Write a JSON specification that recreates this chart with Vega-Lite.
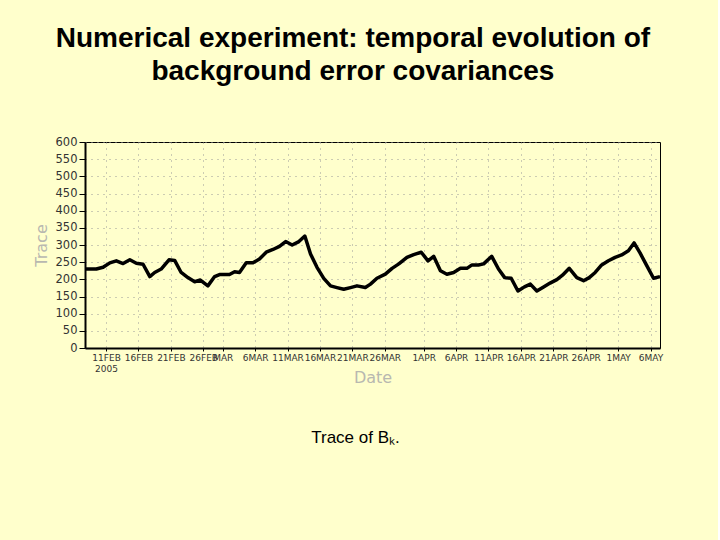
{
  "$schema": "https://vega.github.io/schema/vega-lite/v6.json",
  "description": "Trace of the background error covariance matrix over time, Feb-May 2005.",
  "background": "#FFFFCC",
  "padding": {"left": 32, "top": 24, "right": 54, "bottom": 110},
  "title": {
    "text": ["Numerical experiment: temporal evolution of", "background error covariances"],
    "font": "Liberation Sans",
    "fontSize": 28,
    "fontWeight": "bold",
    "color": "#000000",
    "lineHeight": 33,
    "anchor": "middle",
    "dx": 5,
    "offset": 50
  },
  "spacing": 32,
  "vconcat": [
    {
      "width": 575,
      "height": 206,
      "data": {
        "values": [
          {"time": "2005-02-07T18:00:00Z", "trace": 230},
          {"time": "2005-02-09T12:00:00Z", "trace": 230},
          {"time": "2005-02-10T13:00:00Z", "trace": 235},
          {"time": "2005-02-11T14:00:00Z", "trace": 248},
          {"time": "2005-02-12T14:00:00Z", "trace": 254},
          {"time": "2005-02-13T15:00:00Z", "trace": 246},
          {"time": "2005-02-14T16:00:00Z", "trace": 257},
          {"time": "2005-02-15T16:00:00Z", "trace": 247},
          {"time": "2005-02-16T17:00:00Z", "trace": 244},
          {"time": "2005-02-17T18:00:00Z", "trace": 208},
          {"time": "2005-02-18T12:00:00Z", "trace": 220},
          {"time": "2005-02-19T12:00:00Z", "trace": 230},
          {"time": "2005-02-20T17:00:00Z", "trace": 257},
          {"time": "2005-02-21T14:00:00Z", "trace": 255},
          {"time": "2005-02-22T14:00:00Z", "trace": 220},
          {"time": "2005-02-23T15:00:00Z", "trace": 205},
          {"time": "2005-02-24T16:00:00Z", "trace": 193},
          {"time": "2005-02-25T13:00:00Z", "trace": 198},
          {"time": "2005-02-26T17:00:00Z", "trace": 181},
          {"time": "2005-02-27T18:00:00Z", "trace": 208},
          {"time": "2005-02-28T12:00:00Z", "trace": 214},
          {"time": "2005-03-02T01:00:00Z", "trace": 214},
          {"time": "2005-03-02T20:00:00Z", "trace": 222},
          {"time": "2005-03-03T14:00:00Z", "trace": 220},
          {"time": "2005-03-04T15:00:00Z", "trace": 248},
          {"time": "2005-03-05T16:00:00Z", "trace": 248},
          {"time": "2005-03-06T16:00:00Z", "trace": 259},
          {"time": "2005-03-07T17:00:00Z", "trace": 279},
          {"time": "2005-03-08T18:00:00Z", "trace": 287},
          {"time": "2005-03-09T18:00:00Z", "trace": 296},
          {"time": "2005-03-10T17:00:00Z", "trace": 310},
          {"time": "2005-03-11T17:00:00Z", "trace": 300},
          {"time": "2005-03-12T18:00:00Z", "trace": 310},
          {"time": "2005-03-13T16:00:00Z", "trace": 326},
          {"time": "2005-03-14T13:00:00Z", "trace": 274},
          {"time": "2005-03-15T13:00:00Z", "trace": 235},
          {"time": "2005-03-16T14:00:00Z", "trace": 203},
          {"time": "2005-03-17T15:00:00Z", "trace": 181},
          {"time": "2005-03-18T15:00:00Z", "trace": 176},
          {"time": "2005-03-19T16:00:00Z", "trace": 171},
          {"time": "2005-03-20T17:00:00Z", "trace": 176},
          {"time": "2005-03-21T17:00:00Z", "trace": 181},
          {"time": "2005-03-23T00:00:00Z", "trace": 176},
          {"time": "2005-03-23T19:00:00Z", "trace": 186},
          {"time": "2005-03-24T19:00:00Z", "trace": 203},
          {"time": "2005-03-26T02:00:00Z", "trace": 215},
          {"time": "2005-03-27T03:00:00Z", "trace": 232},
          {"time": "2005-03-28T04:00:00Z", "trace": 245},
          {"time": "2005-03-29T10:00:00Z", "trace": 264},
          {"time": "2005-03-30T11:00:00Z", "trace": 272},
          {"time": "2005-03-31T15:00:00Z", "trace": 279},
          {"time": "2005-04-01T16:00:00Z", "trace": 254},
          {"time": "2005-04-02T13:00:00Z", "trace": 267},
          {"time": "2005-04-03T14:00:00Z", "trace": 225},
          {"time": "2005-04-04T14:00:00Z", "trace": 215},
          {"time": "2005-04-05T15:00:00Z", "trace": 220},
          {"time": "2005-04-06T16:00:00Z", "trace": 232},
          {"time": "2005-04-07T16:00:00Z", "trace": 232},
          {"time": "2005-04-08T11:00:00Z", "trace": 242},
          {"time": "2005-04-09T11:00:00Z", "trace": 242},
          {"time": "2005-04-10T06:00:00Z", "trace": 245},
          {"time": "2005-04-11T12:00:00Z", "trace": 267},
          {"time": "2005-04-12T13:00:00Z", "trace": 230},
          {"time": "2005-04-13T12:00:00Z", "trace": 205},
          {"time": "2005-04-14T12:00:00Z", "trace": 203},
          {"time": "2005-04-15T13:00:00Z", "trace": 166},
          {"time": "2005-04-16T13:00:00Z", "trace": 178},
          {"time": "2005-04-17T11:00:00Z", "trace": 186},
          {"time": "2005-04-18T11:00:00Z", "trace": 166},
          {"time": "2005-04-19T12:00:00Z", "trace": 178},
          {"time": "2005-04-20T12:00:00Z", "trace": 189},
          {"time": "2005-04-21T13:00:00Z", "trace": 199},
          {"time": "2005-04-22T10:00:00Z", "trace": 212},
          {"time": "2005-04-23T11:00:00Z", "trace": 232},
          {"time": "2005-04-24T15:00:00Z", "trace": 205},
          {"time": "2005-04-25T16:00:00Z", "trace": 196},
          {"time": "2005-04-26T13:00:00Z", "trace": 205},
          {"time": "2005-04-27T11:00:00Z", "trace": 220},
          {"time": "2005-04-28T11:00:00Z", "trace": 242},
          {"time": "2005-04-29T12:00:00Z", "trace": 254},
          {"time": "2005-04-30T13:00:00Z", "trace": 264},
          {"time": "2005-05-01T13:00:00Z", "trace": 271},
          {"time": "2005-05-02T14:00:00Z", "trace": 283},
          {"time": "2005-05-03T11:00:00Z", "trace": 306},
          {"time": "2005-05-04T09:00:00Z", "trace": 277},
          {"time": "2005-05-05T10:00:00Z", "trace": 240},
          {"time": "2005-05-06T11:00:00Z", "trace": 203},
          {"time": "2005-05-07T11:00:00Z", "trace": 208}
        ]
      },
      "mark": {"type": "line", "color": "#000000", "strokeWidth": 3.5, "strokeJoin": "round"},
      "encoding": {
        "x": {
          "field": "time",
          "type": "temporal",
          "scale": {
            "type": "utc",
            "nice": false,
            "domain": [
              {"year": 2005, "month": 2, "date": 7, "hours": 18, "utc": true},
              {"year": 2005, "month": 5, "date": 7, "hours": 11, "utc": true}
            ]
          },
          "axis": {
            "title": "Date",
            "values": [
              {"year": 2005, "month": 2, "date": 11, "utc": true},
              {"year": 2005, "month": 2, "date": 16, "utc": true},
              {"year": 2005, "month": 2, "date": 21, "utc": true},
              {"year": 2005, "month": 2, "date": 26, "utc": true},
              {"year": 2005, "month": 3, "date": 1, "utc": true},
              {"year": 2005, "month": 3, "date": 6, "utc": true},
              {"year": 2005, "month": 3, "date": 11, "utc": true},
              {"year": 2005, "month": 3, "date": 16, "utc": true},
              {"year": 2005, "month": 3, "date": 21, "utc": true},
              {"year": 2005, "month": 3, "date": 26, "utc": true},
              {"year": 2005, "month": 4, "date": 1, "utc": true},
              {"year": 2005, "month": 4, "date": 6, "utc": true},
              {"year": 2005, "month": 4, "date": 11, "utc": true},
              {"year": 2005, "month": 4, "date": 16, "utc": true},
              {"year": 2005, "month": 4, "date": 21, "utc": true},
              {"year": 2005, "month": 4, "date": 26, "utc": true},
              {"year": 2005, "month": 5, "date": 1, "utc": true},
              {"year": 2005, "month": 5, "date": 6, "utc": true}
            ],
            "labelExpr": "utcmonth(datum.value) == 1 && utcdate(datum.value) == 11 ? ['11FEB', '2005'] : (utcmonth(datum.value) == 2 && utcdate(datum.value) == 1 ? 'MAR' : upper(utcFormat(datum.value, '%-d%b')))",
            "labelFont": "DejaVu Sans",
            "labelFontSize": 9,
            "labelColor": "#333333",
            "labelLineHeight": 11,
            "labelPadding": 2,
            "labelOverlap": false,
            "labelFlush": false,
            "tickSize": 3,
            "tickColor": "#000000",
            "domainColor": "#000000",
            "domainWidth": 2,
            "grid": true,
            "gridColor": "#999999",
            "gridDash": [1, 5],
            "titleFont": "DejaVu Sans",
            "titleFontSize": 16,
            "titleFontWeight": "normal",
            "titleColor": "#b8b8b0",
            "titlePadding": -4
          }
        },
        "y": {
          "field": "trace",
          "type": "quantitative",
          "scale": {"domain": [0, 600], "nice": false},
          "axis": {
            "title": "Trace",
            "values": [0, 50, 100, 150, 200, 250, 300, 350, 400, 450, 500, 550, 600],
            "labelFont": "DejaVu Sans",
            "labelFontSize": 11.5,
            "labelColor": "#333333",
            "labelPadding": 2,
            "labelFlush": false,
            "labelOverlap": false,
            "tickSize": 6,
            "tickColor": "#000000",
            "domainColor": "#000000",
            "domainWidth": 2,
            "grid": true,
            "gridColor": "#999999",
            "gridDash": [1, 5],
            "titleFont": "DejaVu Sans",
            "titleFontSize": 16,
            "titleFontWeight": "normal",
            "titleColor": "#b8b8b0",
            "titlePadding": 6
          }
        }
      }
    },
    {
      "width": 575,
      "height": 40,
      "view": {"stroke": null},
      "data": {"values": [{"caption": "Trace of Bₖ."}]},
      "mark": {"type": "text", "font": "Liberation Sans", "fontSize": 17, "color": "#000000", "dx": -17},
      "encoding": {"text": {"field": "caption", "type": "nominal"}}
    }
  ],
  "config": {
    "view": {"stroke": "#000000", "strokeWidth": 1}
  }
}
